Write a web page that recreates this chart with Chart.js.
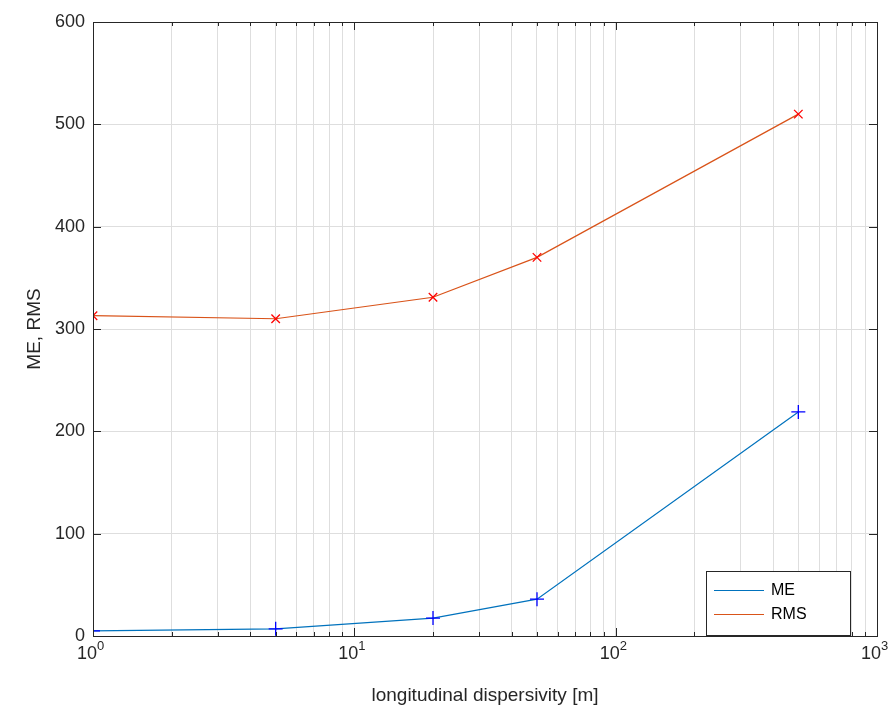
<!DOCTYPE html>
<html><head><script src="https://cdn.jsdelivr.net/npm/chart.js@4"></script>
<style>body{margin:0;background:#fff}#w{width:891px;height:715px}</style></head>
<body><div id="w"><canvas id="c"></canvas></div>
<script>
const xVals=[1,5,20,50,500];
const meVals=[5,7,17.5,36,219];
const rmsVals=[313,310,331,370,510];
const yTicks=[0,100,200,300,400,500,600];
const xMajor=[1,10,100,1000];
const F='Arial, "Liberation Sans", sans-serif';
const minor=[];for(let d=1;d<1000;d*=10)for(let k=1;k<10;k++)minor.push(d*k);minor.push(1000);
const deco={id:'deco',afterDraw(ch){
 const c=ch.ctx,a=ch.chartArea,xs=ch.scales.x,ys=ch.scales.y;
 c.save();c.fillStyle='#262626';c.font='18px '+F;c.textBaseline='top';
 xMajor.forEach((v,i)=>{const px=xs.getPixelForValue(v);c.font='18px '+F;c.textAlign='right';c.fillText('10',px+4,a.bottom+9);c.font='13px '+F;c.textAlign='left';c.fillText(String(i),px+4,a.bottom+4);});
 c.font='19px '+F;c.textAlign='center';c.fillText('longitudinal dispersivity [m]',(a.left+a.right)/2,a.bottom+50);
 c.translate(35,(a.top+a.bottom)/2);c.rotate(-Math.PI/2);c.textBaseline='middle';c.fillText('ME, RMS',0,0);
 c.restore();
 c.save();c.strokeStyle='#262626';c.lineWidth=1;c.strokeRect(a.left+.5,a.top+.5,a.right-a.left,a.bottom-a.top);
 // ticks
 minor.forEach(v=>{const px=Math.round(xs.getPixelForValue(v))+.5;const L=xMajor.includes(v)?8:4;c.beginPath();c.moveTo(px,a.bottom);c.lineTo(px,a.bottom-L);c.moveTo(px,a.top);c.lineTo(px,a.top+L);c.stroke();});
 yTicks.forEach(v=>{const py=Math.round(ys.getPixelForValue(v))+.5;c.beginPath();c.moveTo(a.left,py);c.lineTo(a.left+8,py);c.moveTo(a.right,py);c.lineTo(a.right-8,py);c.stroke();});
 // legend
 const lx=706,ly=571,lw=144,lh=64;c.fillStyle='#fff';c.fillRect(lx,ly,lw,lh);c.strokeRect(lx+.5,ly+.5,lw,lh);
 c.font='16px '+F;c.fillStyle='#000';c.textBaseline='middle';c.textAlign='left';
 [['ME','#0072BD'],['RMS','#D95319']].forEach((e,i)=>{const y=ly+19+i*24;c.strokeStyle=e[1];c.beginPath();c.moveTo(lx+8,y+.5);c.lineTo(lx+58,y+.5);c.stroke();c.fillText(e[0],lx+65,y+1);});
 c.restore();}};
const mk=(vals)=>xVals.map((x,i)=>({x,y:vals[i]}));
new Chart(document.getElementById('c'),{type:'line',
 data:{datasets:[
  {label:'ME',data:mk(meVals),borderColor:'#0072BD',borderWidth:1.2,pointStyle:'cross',pointRadius:7,pointBorderColor:'#0000ff',pointBorderWidth:1.3,tension:0},
  {label:'RMS',data:mk(rmsVals),borderColor:'#D95319',borderWidth:1.2,pointStyle:'crossRot',pointRadius:6,pointBorderColor:'#ff0000',pointBorderWidth:1.3,tension:0}]},
 options:{responsive:true,maintainAspectRatio:false,animation:false,
  layout:{padding:{top:22,right:14,bottom:0,left:0}},
  plugins:{legend:{display:false},tooltip:{enabled:false}},
  scales:{
   x:{type:'logarithmic',min:1,max:1000,afterBuildTicks(s){s.ticks=minor.map(v=>({value:v}));},
     afterFit(s){s.height=79;},ticks:{callback:()=>'',autoSkip:false},grid:{color:'#dedede',drawTicks:false},border:{display:false}},
   y:{min:0,max:600,afterBuildTicks(s){s.ticks=yTicks.map(v=>({value:v}));},afterFit(s){s.width=93;},
     ticks:{color:'#262626',font:{size:18,family:F},padding:8},grid:{color:'#dedede',drawTicks:false},border:{display:false}}}},
 plugins:[deco]});
</script></body></html>
